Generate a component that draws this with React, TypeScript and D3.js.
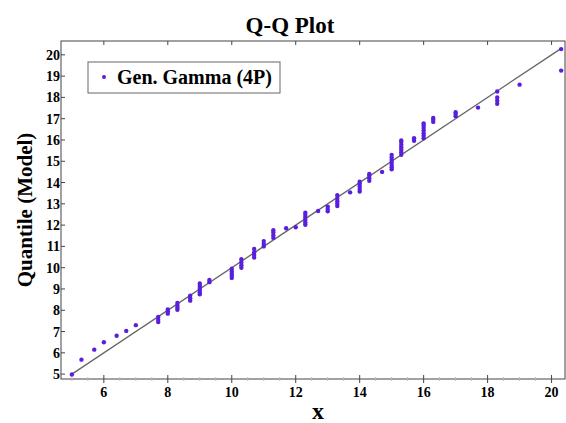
import React from 'react';
import * as d3 from 'd3';

// observed sample values (x) with the model quantiles plotted above each one
const sampleX = [
  5.0, 5.3, 5.7, 6.0, 6.4, 6.7, 7.0, 7.7, 8.0, 8.3, 8.7, 9.0, 9.3, 10.0, 10.3, 10.7,
  11.0, 11.3, 11.7, 12.0, 12.3, 12.7, 13.0, 13.3, 13.7, 14.0, 14.3, 14.7, 15.0, 15.3,
  15.7, 16.0, 16.3, 17.0, 17.7, 18.3, 19.0, 20.3,
];

const modelQuantiles = [
  [4.98],
  [5.68],
  [6.15],
  [6.5],
  [6.8],
  [7.03],
  [7.3],
  [7.45, 7.55, 7.68],
  [7.84, 7.95, 8.04],
  [8.02, 8.12, 8.22, 8.34],
  [8.45, 8.56, 8.68],
  [8.75, 8.85, 8.95, 9.05, 9.15, 9.26],
  [9.32, 9.42],
  [9.52, 9.62, 9.72, 9.82, 9.95],
  [10.0, 10.12, 10.25, 10.4],
  [10.48, 10.6, 10.72, 10.88],
  [11.0, 11.12, 11.25],
  [11.4, 11.52, 11.65, 11.76],
  [11.85],
  [11.9],
  [12.02, 12.12, 12.24, 12.36, 12.48, 12.58],
  [12.66],
  [12.65, 12.76, 12.87],
  [12.9, 13.0, 13.12, 13.25, 13.4],
  [13.54],
  [13.58, 13.7, 13.82, 13.94, 14.04],
  [14.08, 14.2, 14.32, 14.4],
  [14.5],
  [14.62, 14.72, 14.82, 14.94, 15.06, 15.18, 15.3],
  [15.3, 15.42, 15.54, 15.66, 15.78, 15.9, 15.98],
  [15.96, 16.08],
  [16.08, 16.2, 16.32, 16.44, 16.56, 16.68, 16.78],
  [16.85, 16.95, 17.03],
  [17.12, 17.22, 17.3],
  [17.52],
  [17.7, 17.85, 18.0, 18.28],
  [18.6],
  [19.26, 20.27],
];

const refLine = [5.0, 20.27];
const xTicks = [6, 8, 10, 12, 14, 16, 18, 20];
const yTicks = [5, 6, 7, 8, 9, 10, 11, 12, 13, 14, 15, 16, 17, 18, 19, 20];
const legendLabel = 'Gen. Gamma (4P)';

const W = 566;
const H = 423;
const frame = { left: 61, right: 565, top: 41, bottom: 379 };
const font = '"Liberation Serif", "Times New Roman", serif';
const dotColor = '#5a1fdc';

export default function App() {
  const x = d3.scaleLinear().domain([4.66, 20.42]).range([frame.left, frame.right]);
  const y = d3.scaleLinear().domain([4.77, 20.65]).range([frame.bottom, frame.top]);

  const points = sampleX.flatMap((sx, i) => modelQuantiles[i].map(q => ({ sx, q })));
  const minorX = d3.range(5, 20.5, 0.5).filter(v => !xTicks.includes(v));

  const line = d3.line<number>().x(d => x(d)).y(d => y(d));

  return (
    <svg width={W} height={H} style={{ position: 'absolute', left: 0, top: 0, background: '#fff' }}>
      <text x={290} y={33} textAnchor="middle" fontFamily={font} fontWeight="bold" fontSize={23}>
        Q-Q Plot
      </text>

      {/* frame */}
      <rect x={frame.left} y={frame.top} width={frame.right - frame.left} height={frame.bottom - frame.top}
        fill="none" stroke="#444" strokeWidth={1} />

      {/* minor ticks on the bottom axis */}
      {minorX.map(v => (
        <line key={'mx' + v} x1={x(v)} x2={x(v)} y1={frame.bottom - 2} y2={frame.bottom + 2} stroke="#bbb" strokeWidth={1} />
      ))}

      {xTicks.map(t => (
        <g key={'xt' + t}>
          <line x1={x(t)} x2={x(t)} y1={frame.bottom - 4} y2={frame.bottom + 4} stroke="#444" />
          <line x1={x(t)} x2={x(t)} y1={frame.top} y2={frame.top + 4} stroke="#444" />
          <text x={x(t)} y={397} textAnchor="middle" fontFamily={font} fontWeight="bold" fontSize={14}>{t}</text>
        </g>
      ))}

      {yTicks.map(t => (
        <g key={'yt' + t}>
          <line x1={frame.left} x2={frame.left + 4} y1={y(t)} y2={y(t)} stroke="#444" />
          <text x={frame.left - 1} y={y(t) + 5} textAnchor="end" fontFamily={font} fontWeight="bold" fontSize={14}>{t}</text>
        </g>
      ))}

      {/* reference line y = x */}
      <path d={line(refLine) || ''} stroke="#666" strokeWidth={1.3} fill="none" />

      {points.map((p, i) => (
        <circle key={i} cx={x(p.sx)} cy={y(p.q)} r={2.2} fill={dotColor} />
      ))}

      {/* legend */}
      <rect x={88} y={62} width={192} height={31} fill="#fff" stroke="#666" strokeWidth={1} />
      <circle cx={104} cy={77} r={2} fill={dotColor} />
      <text x={117} y={84} fontFamily={font} fontWeight="bold" fontSize={20}>{legendLabel}</text>

      <text x={318} y={419} textAnchor="middle" fontFamily={font} fontWeight="bold" fontSize={24}>x</text>
      <text transform="translate(32, 210) rotate(-90)" textAnchor="middle" fontFamily={font} fontWeight="bold" fontSize={21}>
        Quantile (Model)
      </text>
    </svg>
  );
}
